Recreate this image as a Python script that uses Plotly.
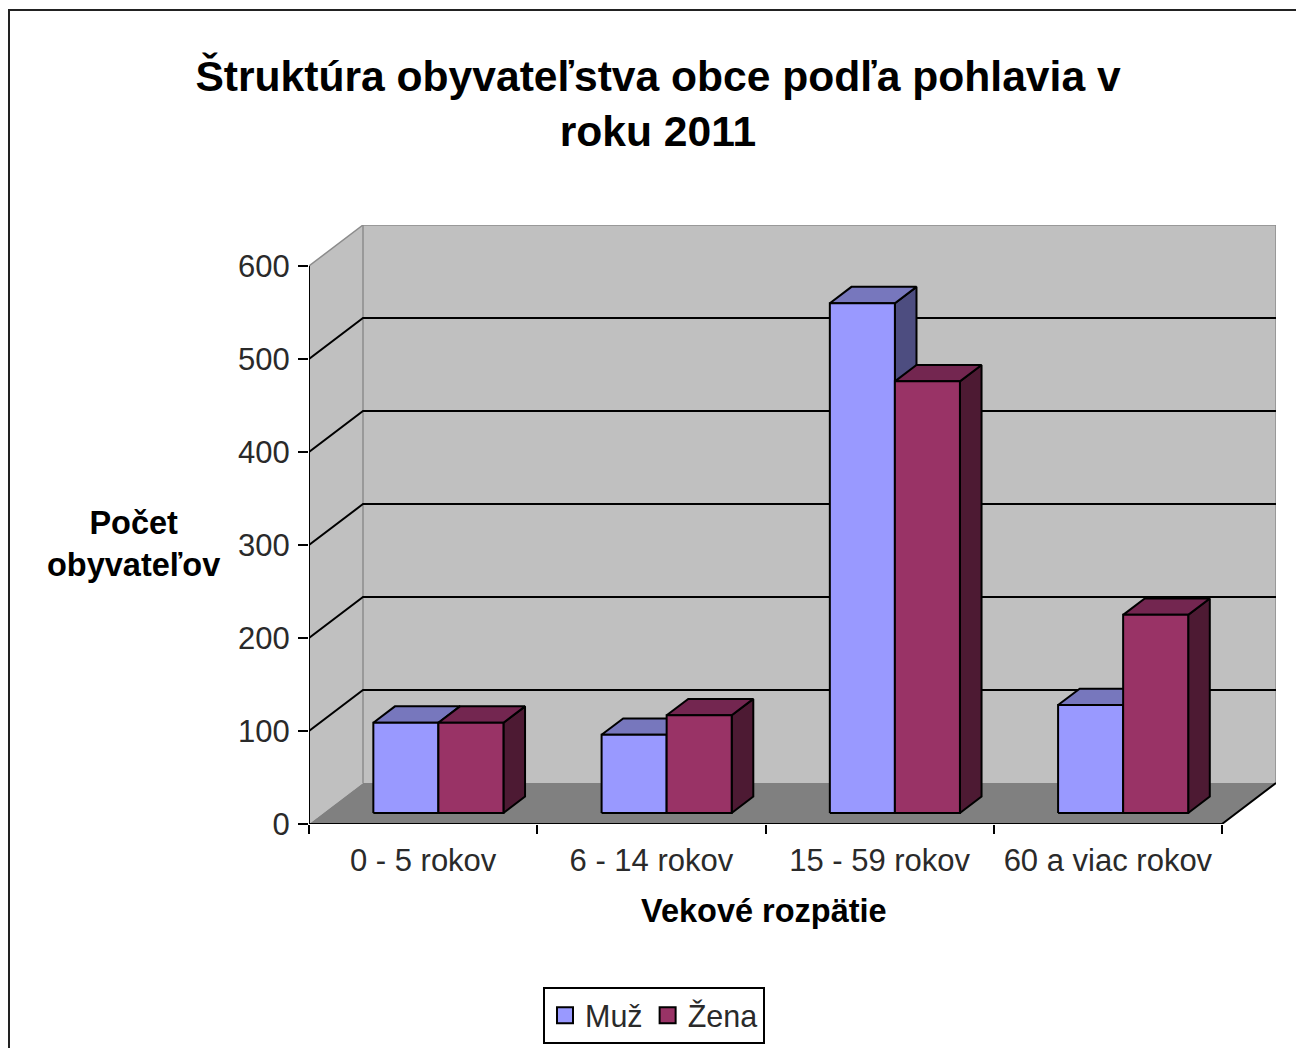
import plotly.graph_objects as go

# ---- data ----
categories = ["0 - 5 rokov", "6 - 14 rokov", "15 - 59 rokov", "60 a viac rokov"]
muz = [97, 84, 548, 116]
zena = [97, 105, 464, 213]
y_ticks = [0, 100, 200, 300, 400, 500, 600]
title_text = "Štruktúra obyvateľstva obce podľa pohlavia v<br>roku 2011"

# ---- page geometry ----
W, H = 1296, 1048
M_L, M_R, M_T, M_B = 309, 20, 225, 224
PW, PH = W - M_L - M_R, H - M_T - M_B

# ---- pseudo-3D projection, in axis units ----
DX = 54 / 228.25      # depth shift along x (category units)
DY = 44.0             # depth shift along y (value units)
YMAX = 600
BAR_W = 0.285
BAR_SHIFT = 0.003
D_FRONT = 0.27        # bar front, as a fraction of the floor depth
D_BACK = 0.67         # bar back

X0, X1 = -0.5, len(categories) - 0.5


def poly(xs, ys, fill, line=None, lw=2):
    return go.Scatter(
        x=xs + xs[:1], y=ys + ys[:1], mode="lines", fill="toself", fillcolor=fill,
        line=dict(color=line or fill, width=lw if line else 0),
        hoverinfo="skip", showlegend=False, cliponaxis=False,
    )


def path(xs, ys, color, lw=2):
    return go.Scatter(
        x=xs, y=ys, mode="lines", line=dict(color=color, width=lw),
        hoverinfo="skip", showlegend=False, cliponaxis=False,
    )


fig = go.Figure()

# walls and floor
fig.add_trace(poly([X0 + DX, X1 + DX, X1 + DX, X0 + DX], [DY, DY, YMAX + DY, YMAX + DY], "#C0C0C0"))
fig.add_trace(poly([X0, X0 + DX, X0 + DX, X0], [0, DY, YMAX + DY, YMAX], "#C0C0C0"))
fig.add_trace(poly([X0, X1, X1 + DX, X0 + DX], [0, 0, DY, DY], "#808080"))

# wall edges
fig.add_trace(path([X0, X0 + DX, X1 + DX, X1 + DX], [YMAX, YMAX + DY, YMAX + DY, DY], "#8C8C8C", 1.5))
fig.add_trace(path([X0 + DX, X0 + DX], [DY, YMAX + DY], "#8C8C8C", 1.5))

# gridlines
for v in y_ticks[1:-1]:
    fig.add_trace(path([X0, X0 + DX, X1 + DX], [v, v + DY, v + DY], "#000000", 2))

# axes drawn only along the front edge
fig.add_trace(path([X0, X0], [0, YMAX], "#000000", 2))
fig.add_trace(path([X0, X1, X1 + DX], [0, 0, DY], "#000000", 2))

# bars
series = [
    (muz, -BAR_W, "#9999FF", "#7777BD", "#4D4D80"),
    (zena, 0.0, "#993366", "#732650", "#4D1A33"),
]
for i in range(len(categories)):
    for vals, off, front, top, side in series:
        v = vals[i]
        xl = i + off + BAR_SHIFT + DX * D_FRONT
        xr = xl + BAR_W
        yb = DY * D_FRONT
        yt = yb + v
        ddx = DX * (D_BACK - D_FRONT)
        ddy = DY * (D_BACK - D_FRONT)
        fig.add_trace(poly([xr, xr + ddx, xr + ddx, xr], [yb, yb + ddy, yt + ddy, yt], side, "#000000"))
        fig.add_trace(poly([xl, xr, xr + ddx, xl + ddx], [yt, yt, yt + ddy, yt + ddy], top, "#000000"))
        fig.add_trace(poly([xl, xr, xr, xl], [yb, yb, yt, yt], front, "#000000"))

# legend entries
for name, color in (("Muž", "#9999FF"), ("Žena", "#993366")):
    fig.add_trace(go.Scatter(
        x=[None], y=[None], mode="markers", name=name,
        marker=dict(symbol="square", size=18, color=color, line=dict(color="#000000", width=2)),
    ))


def px(x):
    return (x - M_L) / PW


def py(y):
    return (H - M_B - y) / PH


FONT = "Liberation Sans, Arial, sans-serif"
fig.update_layout(
    width=W, height=H, autosize=False,
    margin=dict(l=M_L, r=M_R, t=M_T, b=M_B, pad=0),
    paper_bgcolor="#FFFFFF", plot_bgcolor="#FFFFFF",
    font=dict(family=FONT, color="#000000", size=31),
    title=dict(
        text=title_text, x=658 / W, xanchor="center", y=1 - 91 / H, yanchor="top",
        font=dict(family=FONT, size=42.6, color="#000000", weight="bold"),
    ),
    xaxis=dict(
        range=[X0, X1 + DX], tickmode="array",
        tickvals=list(range(len(categories))), ticktext=categories,
        ticks="outside", ticklen=9, tickcolor="rgba(0,0,0,0)", tickwidth=1,
        showgrid=False, zeroline=False, showline=False,
        tickfont=dict(size=31, color="#2A2A2A"),
        minor=dict(
            tickmode="array", tickvals=[X0 + k for k in range(len(categories) + 1)],
            ticks="outside", ticklen=9, tickcolor="#000000", tickwidth=2, showgrid=False,
        ),
    ),
    yaxis=dict(
        range=[0, YMAX + DY], tickmode="array", tickvals=y_ticks,
        ticks="outside", ticklen=10, tickcolor="#000000", tickwidth=2,
        showgrid=False, zeroline=False, showline=False, ticklabelstandoff=2,
        tickfont=dict(size=31, color="#2A2A2A"),
    ),
    legend=dict(
        orientation="h", xref="container", yref="container",
        x=543 / W, xanchor="left", y=1 - 987 / H, yanchor="top",
        bgcolor="#FFFFFF", bordercolor="#000000", borderwidth=2,
        font=dict(size=30.5, color="#2A2A2A"), itemwidth=30, tracegroupgap=0,
    ),
    annotations=[
        dict(text="Vekové rozpätie", x=763.5, y=911, xref="paper", yref="paper"),
        dict(text="Počet<br>obyvateľov", x=133, y=544, xref="paper", yref="paper"),
    ],
    shapes=[
        dict(type="rect", xref="paper", yref="paper", x0=px(9), x1=px(1310), y0=py(10), y1=py(1060),
             line=dict(color="#222222", width=2), fillcolor="rgba(0,0,0,0)", layer="below"),
    ],
)
for a in fig.layout.annotations:
    a.x = px(a.x)
    a.y = py(a.y)
    a.showarrow = False
    a.xanchor = "center"
    a.yanchor = "middle"
    a.font = dict(family=FONT, size=32.5, color="#000000", weight="bold")

fig.write_html(
    "out.html",
    config={"displayModeBar": False},
    post_script="document.body.style.margin='0';document.body.style.overflow='hidden';",
)
